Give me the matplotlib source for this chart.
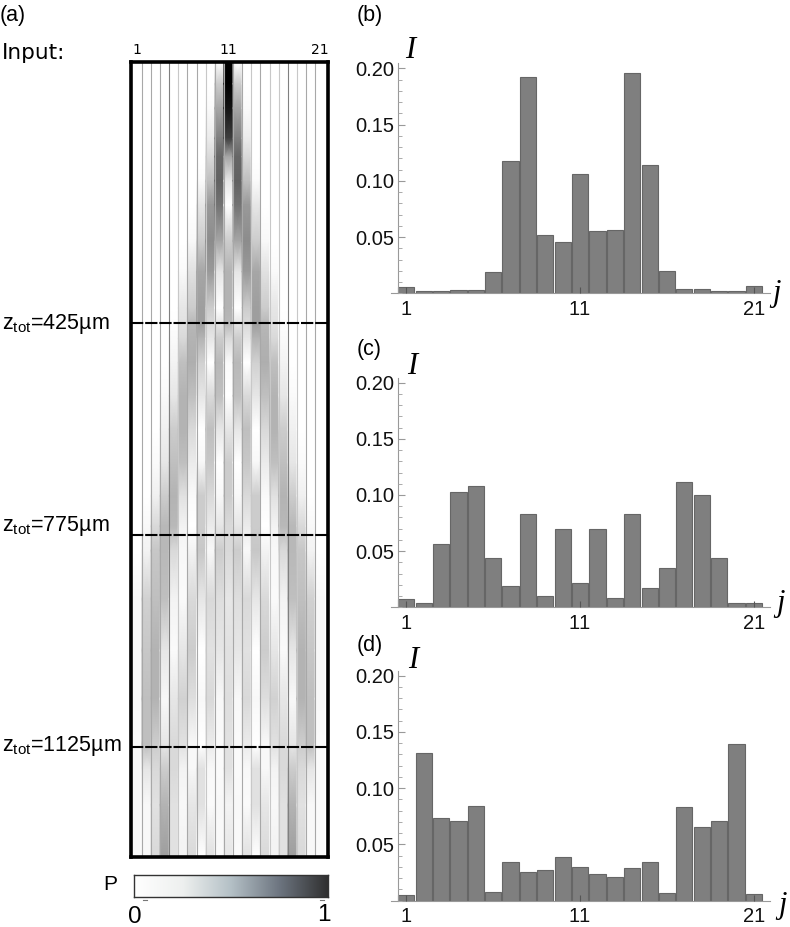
import matplotlib
matplotlib.use("Agg")
import matplotlib.pyplot as plt
from matplotlib.colors import LinearSegmentedColormap
from matplotlib.lines import Line2D
from matplotlib.ticker import MultipleLocator
import numpy as np

plt.rcParams['font.family'] = ['Liberation Sans', 'DejaVu Sans']
plt.rcParams['mathtext.fontset'] = 'custom'
plt.rcParams['mathtext.rm'] = 'Liberation Sans'
plt.rcParams['mathtext.default'] = 'regular'
plt.rcParams['text.kerning_factor'] = 6

W, H = 790, 927

# intensidade no fim de cada amostra, guias 1 a 21
canais = np.arange(1, 22)
I_b = [.0055, .002, .002, .003, .003, .019, .118, .192, .052, .046, .106,
       .055, .056, .196, .114, .020, .0035, .0035, .002, .002, .0065]
I_c = [.007, .004, .056, .103, .108, .044, .019, .083, .010, .070, .022,
       .070, .008, .083, .017, .035, .112, .100, .044, .004, .004]
I_d = [.005, .131, .073, .071, .084, .008, .034, .025, .027, .039, .030,
       .024, .021, .029, .034, .007, .083, .065, .071, .139, .006]

# propagacao: potencia P lida em cada z (um)
z_um = [-6, 30, 70, 120, 150, 190, 230, 290, 340, 400, 425, 450, 490, 545, 600,
        655, 710, 760, 800, 880, 965, 1045, 1120, 1160, 1220, 1306]
P_z = [
    [0, 0, 0, 0, 0, 0, 0, 0, 0, 0, 1, 0, 0, 0, 0, 0, 0, 0, 0, 0, 0],
    [0, 0, 0, 0, 0, 0, 0, 0, 0, .2, 1, .2, 0, 0, 0, 0, 0, 0, 0, 0, 0],
    [0, 0, 0, 0, 0, 0, 0, 0, .02, .35, .92, .35, .02, 0, 0, 0, 0, 0, 0, 0, 0],
    [0, 0, 0, 0, 0, 0, 0, 0, .08, .5, .75, .5, .08, 0, 0, 0, 0, 0, 0, 0, 0],
    [0, 0, 0, 0, 0, 0, 0, 0, .15, .6, .35, .6, .15, 0, 0, 0, 0, 0, 0, 0, 0],
    [0, 0, 0, 0, 0, 0, 0, .02, .25, .62, .1, .62, .25, .02, 0, 0, 0, 0, 0, 0, 0],
    [0, 0, 0, 0, 0, 0, 0, .1, .4, .55, 0, .55, .4, .1, 0, 0, 0, 0, 0, 0, 0],
    [0, 0, 0, 0, 0, 0, .03, .2, .45, .35, .2, .35, .45, .2, .03, 0, 0, 0, 0, 0, 0],
    [0, 0, 0, 0, 0, .02, .12, .35, .4, .1, .3, .1, .4, .35, .12, .02, 0, 0, 0, 0, 0],
    [0, 0, 0, 0, 0, .1, .2, .38, .2, 0, .3, 0, .2, .38, .2, .1, 0, 0, 0, 0, 0],
    [0, 0, 0, 0, .01, .12, .28, .38, .15, .1, .28, .1, .15, .38, .28, .12, .01, 0, 0, 0, 0],
    [0, 0, 0, 0, .02, .15, .3, .3, .1, .2, .15, .2, .1, .3, .3, .15, .02, 0, 0, 0, 0],
    [0, 0, 0, 0, .05, .25, .32, .18, 0, .28, .02, .28, 0, .18, .32, .25, .05, 0, 0, 0, 0],
    [0, 0, 0, .02, .1, .3, .25, .1, .15, .25, 0, .25, .15, .1, .25, .3, .1, .02, 0, 0, 0],
    [0, 0, 0, .06, .2, .3, .15, 0, .25, .1, .1, .1, .25, 0, .15, .3, .2, .06, 0, 0, 0],
    [0, 0, .02, .1, .25, .25, .08, .03, .22, 0, .2, 0, .22, .03, .08, .25, .25, .1, .02, 0, 0],
    [0, 0, .06, .2, .3, .12, .02, .2, .15, .03, .2, .03, .15, .2, .02, .12, .3, .2, .06, 0, 0],
    [0, .03, .15, .28, .28, .05, 0, .2, .08, .1, .15, .1, .08, .2, 0, .05, .28, .28, .15, .03, 0],
    [0, .05, .22, .28, .15, .03, .05, .22, .03, .2, .15, .2, .03, .22, .05, .03, .15, .28, .22, .05, 0],
    [.03, .18, .25, .25, .05, .02, .15, .1, .15, .13, .1, .13, .15, .1, .15, .02, .05, .25, .25, .18, .03],
    [.03, .22, .3, .1, .02, .1, .2, 0, .12, .1, .12, .1, .12, 0, .2, .1, .02, .1, .3, .22, .03],
    [.03, .25, .3, .03, .1, .18, .13, .03, .15, .03, .13, .03, .15, .03, .13, .18, .1, .03, .3, .25, .03],
    [.02, .25, .2, .1, .15, .12, .03, 0, .08, .02, .12, .02, .08, 0, .03, .12, .15, .1, .2, .25, .02],
    [.02, .1, .15, .2, .15, .05, .03, .12, .03, .02, .12, .02, .03, .12, .03, .05, .15, .2, .15, .1, .02],
    [.02, .03, .12, .3, .12, .03, .1, .12, .02, .03, .05, .03, .02, .12, .1, .03, .12, .3, .12, .03, .02],
    [.02, .03, .15, .38, .12, .05, .15, 0, .12, .02, .1, .02, .12, 0, .15, .05, .12, .38, .15, .03, .02],
]
z_marcados = [425, 775, 1125]
rotulos_z = ['425', '775', '1125']
y_rotulos_z = [324, 526, 746]
topo_canais = [1, 11, 21]
# tom de cada linha entre guias
cor_linhas = ['#a8a8a8', '#a8a8a8', '#a8a8a8', '#808080', '#c8c8c8', '#a8a8a8', '#a8a8a8', '#c8c8c8', '#a8a8a8', '#a8a8a8',
              '#a8a8a8', '#a8a8a8', '#c8c8c8', '#a8a8a8', '#c8c8c8', '#c8c8c8', '#808080', '#c8c8c8', '#a8a8a8', '#a8a8a8']


def eixo_px(fig, x0, y0, x1, y1):
    # caixa em pixels da imagem, y para baixo
    return fig.add_axes([x0 / W, 1 - y1 / H, (x1 - x0) / W, (y1 - y0) / H])


def texto_px(fig, x, y, s, **kw):
    kw.setdefault('va', 'center')
    fig.text(x / W, 1 - y / H, s, **kw)


def painel_barras(fig, valores, y_base, y_topo, letra, y_letra, pos_I, pos_j):
    ax = eixo_px(fig, 391, y_topo - 5, 770, y_base)
    escala = (y_base - y_topo) / 0.20
    ax.bar(canais, valores, width=0.93, color='#7f7f7f', edgecolor='#666666', linewidth=0.8, zorder=2)
    ax.set_xlim(1 + (391 - 406.3) / 17.38, 1 + (770 - 406.3) / 17.38)
    ax.set_ylim(0, (y_base - y_topo + 5) / escala)
    for lado in ['top', 'right']:
        ax.spines[lado].set_visible(False)
    ax.spines['left'].set_position(('data', 0.54))
    ax.spines['left'].set_color('#999999')
    ax.spines['bottom'].set_color('#999999')
    ax.set_xticks([1, 11, 21])
    ax.set_yticks([0.05, 0.10, 0.15, 0.20])
    ax.set_yticklabels(['0.05', '0.10', '0.15', '0.20'])
    ax.yaxis.set_minor_locator(MultipleLocator(0.01))
    ax.tick_params(axis='y', which='major', direction='in', length=5, width=0.8, color='#999999', labelsize=14.5, pad=3, labelcolor='#111111')
    ax.tick_params(axis='y', which='minor', direction='in', length=3, width=0.7, color='#aaaaaa')
    ax.tick_params(axis='x', which='major', direction='in', length=4, width=0.8, color='#555555', labelsize=14.5, pad=5, labelcolor='#111111')
    ax.set_axisbelow(False)
    ax.patch.set_alpha(0)
    texto_px(fig, 357, y_letra, letra, fontsize=15.5, ha='left')
    texto_px(fig, pos_I[0], pos_I[1], 'I', fontsize=22, ha='center', family='Liberation Serif', style='italic')
    texto_px(fig, pos_j[0], pos_j[1], 'j', fontsize=22, ha='center', family='Liberation Serif', style='italic')


fig = plt.figure(figsize=(W / 100, H / 100), dpi=100)

# (a) mapa de propagacao
ax = eixo_px(fig, 131, 62, 328, 857)
P = np.array(P_z)
for k, c in enumerate(canais):
    X, Y = np.meshgrid([c - 0.5, c + 0.5], z_um)
    ax.pcolormesh(X, Y, np.column_stack([P[:, k], P[:, k]]), cmap='gray_r', vmin=0, vmax=1, shading='gouraud')
for c, cor in zip(canais[:-1], cor_linhas):
    ax.axvline(c + 0.5, color=cor, lw=0.8)
ax.set_xlim(11 - 97.5 / 9.12, 11 + 99.5 / 9.12)
ax.set_ylim(1306, -6)
ax.set_xticks([])
ax.set_yticks([])
for lado in ax.spines.values():
    lado.set_linewidth(2.6)
    lado.set_color('black')
for z, r, yr in zip(z_marcados, rotulos_z, y_rotulos_z):
    ax.axhline(z, color='black', lw=1.5, dashes=(5.9, 0.9), clip_on=False)
    texto_px(fig, 2, yr, r'z$_{tot}$=' + r + 'µm', fontsize=15.5, ha='left')
for c in topo_canais:
    texto_px(fig, 228.5 + (c - 11) * 9.12, 50, str(c), fontsize=10, ha='center', family='DejaVu Sans')
texto_px(fig, 0, 15, '(a)', fontsize=15.5, ha='left')
texto_px(fig, 2, 53, 'Input:', fontsize=15.5, ha='left', family='DejaVu Sans')

# barra de cores
mapa_p = LinearSegmentedColormap.from_list('p', ['#ffffff', '#eef0ef', '#b4c0c6', '#6d7580', '#303030'], N=256)
cax = eixo_px(fig, 134, 875, 328, 897)
cax.imshow(np.linspace(0, 1, 256).reshape(1, -1), cmap=mapa_p, aspect='auto', extent=[0, 1, 0, 1])
cax.set_yticks([])
cax.set_xticks([])
for lado in cax.spines.values():
    lado.set_linewidth(1.0)
    lado.set_color('#333333')
for xp in [145, 322]:
    fig.add_artist(Line2D([(xp - 2) / W, (xp + 2) / W], [1 - 900 / H, 1 - 900 / H], color='#777777', lw=0.8))
texto_px(fig, 110, 885, 'P', fontsize=15, ha='center')
texto_px(fig, 135, 917, '0', fontsize=17.5, ha='center')
texto_px(fig, 324, 915, '1', fontsize=17.5, ha='center')

# (b), (c), (d)
painel_barras(fig, I_b, 293.3, 68.3, '(b)', 15, (410, 50), (777, 294))
painel_barras(fig, I_c, 607.3, 382.7, '(c)', 349, (412, 367), (781, 603))
painel_barras(fig, I_d, 900.5, 675.7, '(d)', 645, (413, 660), (783, 906))

fig.savefig('out.png', dpi=100)
